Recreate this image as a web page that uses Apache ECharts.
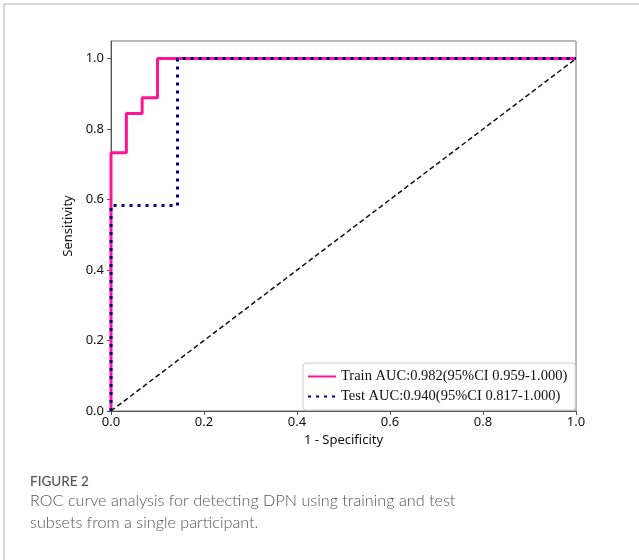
<!DOCTYPE html>
<html>
<head>
<meta charset="utf-8">
<script src="https://cdn.jsdelivr.net/npm/echarts@6/dist/echarts.min.js"></script>
<style>html,body{margin:0;padding:0;background:#fff;}#c{width:639px;height:560px;}</style>
</head>
<body>
<div id="c"></div>
<script>
// ---- data ----
const trainName = 'Train AUC:0.982(95%CI 0.959-1.000)';
const testName = 'Test AUC:0.940(95%CI 0.817-1.000)';
const trainFPR = [0, 0, 0.033, 0.033, 0.067, 0.067, 0.1, 0.1, 1.0];
const trainTPR = [0, 0.733, 0.733, 0.844, 0.844, 0.889, 0.889, 1.0, 1.0];
const testFPR = [0, 0, 0.143, 0.143, 1.0];
const testTPR = [0, 0.583, 0.583, 1.0, 1.0];
const chanceFPR = [0, 1];
const chanceTPR = [0, 1];
const tickValues = [0, 0.2, 0.4, 0.6, 0.8, 1.0];
const xAxisTitle = '1 - Specificity';
const yAxisTitle = 'Sensitivity';
const captionLabel = 'FIGURE 2';
const captionLines = ['ROC curve analysis for detecting DPN using training and test', 'subsets from a single participant.'];

const zip = (a, b) => a.map((v, i) => [v, b[i]]);
const chart = echarts.init(document.getElementById('c'), null, {renderer: 'canvas'});
const tickFont = {fontFamily: 'Noto Sans', fontSize: 13, color: '#111'};
const axisCommon = {
  type: 'value', min: 0, interval: 0.2,
  splitLine: {show: false},
  axisLine: {show: true, lineStyle: {color: '#555', width: 1}},
  axisTick: {show: true, length: 4, customValues: tickValues, lineStyle: {color: '#555'}},
  axisLabel: Object.assign({customValues: tickValues, formatter: v => v.toFixed(1)}, tickFont),
  nameLocation: 'middle',
  nameTextStyle: {fontFamily: 'Noto Sans', fontSize: 13, color: '#111'}
};
chart.setOption({
  animation: false,
  backgroundColor: '#fff',
  grid: {left: 111, top: 41, right: 63, bottom: 149, show: true, borderColor: '#777', borderWidth: 1},
  xAxis: Object.assign({}, axisCommon, {max: 1.0, name: xAxisTitle, nameGap: 19,
    axisLabel: Object.assign({}, axisCommon.axisLabel, {margin: 5})}),
  yAxis: Object.assign({}, axisCommon, {max: 1.05, name: yAxisTitle, nameGap: 28,
    axisLabel: Object.assign({}, axisCommon.axisLabel, {margin: 7})}),
  legend: {
    orient: 'vertical', left: 303, top: 363,
    padding: [6, 8, 6, 4], itemGap: 5, itemWidth: 28, itemHeight: 12,
    borderColor: '#ccc', borderWidth: 1, borderRadius: 3, backgroundColor: '#fff',
    itemStyle: {opacity: 0},
    textStyle: {fontFamily: 'Liberation Serif', fontSize: 14.5, color: '#111'},
    data: [trainName, testName]
  },
  series: [
    {type: 'line', name: 'chance', data: zip(chanceFPR, chanceTPR), symbol: 'none', silent: true,
      lineStyle: {color: '#111', width: 1.5, type: [5, 3]}, z: 1},
    {type: 'line', name: trainName, data: zip(trainFPR, trainTPR), symbol: 'none', clip: false,
      lineStyle: {color: '#ff1493', width: 3}, itemStyle: {color: '#ff1493'}, z: 2},
    {type: 'line', name: testName, data: zip(testFPR, testTPR), symbol: 'none', clip: false,
      lineStyle: {color: '#000088', width: 3, type: [3, 5]}, itemStyle: {color: '#000088'}, z: 3}
  ],
  graphic: [
    {type: 'line', shape: {x1: 4, y1: 4, x2: 639, y2: 4}, style: {stroke: '#c8c8c8', lineWidth: 1.5}},
    {type: 'line', shape: {x1: 4, y1: 4, x2: 4, y2: 560}, style: {stroke: '#c8c8c8', lineWidth: 1.5}},
    {type: 'text', left: 30, top: 475, style: {text: captionLabel, fontFamily: 'Lato', fontSize: 13.5, fontWeight: 500, fill: '#555'}},
    {type: 'text', left: 30, top: 493, style: {text: captionLines[0], fontFamily: 'Lato', fontSize: 16.2, fontWeight: 300, fill: '#555'}},
    {type: 'text', left: 30, top: 515, style: {text: captionLines[1], fontFamily: 'Lato', fontSize: 16.2, fontWeight: 300, fill: '#555'}}
  ]
});
</script>
</body>
</html>
